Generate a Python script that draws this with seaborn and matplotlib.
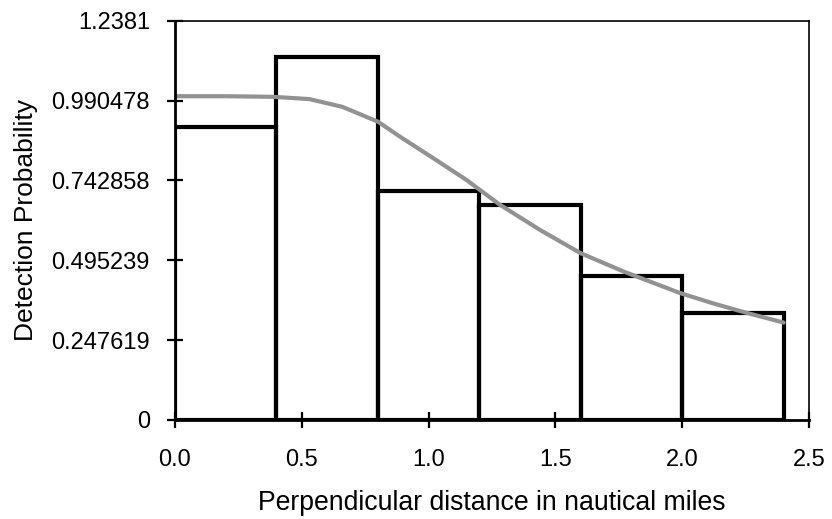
import matplotlib
matplotlib.use("Agg")
import matplotlib.pyplot as plt
import seaborn as sns
import pandas as pd

# Histogram bins (nautical miles) and bar heights
bin_edges = [0.0, 0.4, 0.8, 1.2, 1.6, 2.0, 2.4]
bar_heights = [0.909, 1.127, 0.711, 0.666, 0.448, 0.331]

# Fitted detection curve
curve_x = [0.0, 0.2, 0.39, 0.53, 0.66, 0.80, 0.89, 1.02, 1.15, 1.28,
           1.44, 1.60, 1.77, 1.99, 2.12, 2.25, 2.40]
curve_y = [1.004, 1.004, 1.002, 0.995, 0.971, 0.925, 0.877, 0.811, 0.744,
           0.668, 0.589, 0.517, 0.460, 0.394, 0.362, 0.333, 0.302]

x_ticks = [0.0, 0.5, 1.0, 1.5, 2.0, 2.5]
x_tick_labels = ["0.0", "0.5", "1.0", "1.5", "2.0", "2.5"]
y_ticks = [0, 0.247619, 0.495239, 0.742858, 0.990478, 1.2381]
y_tick_labels = ["0", "0.247619", "0.495239", "0.742858", "0.990478", "1.2381"]

sns.set_theme(style="white")
plt.rcParams['font.family'] = ['Liberation Sans', 'DejaVu Sans']

fig = plt.figure(figsize=(8.32, 5.19), dpi=100)
ax = fig.add_axes([0.2103, 0.1908, 0.7621, 0.7693])

mids = [(bin_edges[i] + bin_edges[i + 1]) / 2 for i in range(len(bar_heights))]
df = pd.DataFrame({"d": mids, "w": bar_heights})
sns.histplot(data=df, x="d", weights="w", bins=bin_edges, fill=False,
             color="black", linewidth=3, element="bars", ax=ax)

cdf = pd.DataFrame({"x": curve_x, "y": curve_y})
sns.lineplot(data=cdf, x="x", y="y", color="#929292", linewidth=3, ax=ax)

ax.set_xlim(0, 2.5)
ax.set_ylim(0, 1.2381)
ax.set_xticks(x_ticks)
ax.set_xticklabels(x_tick_labels)
ax.set_yticks(y_ticks)
ax.set_yticklabels(y_tick_labels)
ax.tick_params(axis="both", which="major", bottom=True, left=True,
               direction="inout", length=12, width=1.6,
               labelsize=17, colors="black")
ax.tick_params(axis="y", pad=12)
ax.tick_params(axis="x", pad=15)

for side in ["left", "bottom"]:
    ax.spines[side].set_linewidth(2)
    ax.spines[side].set_color("black")
for side in ["top", "right"]:
    ax.spines[side].set_linewidth(1.2)
    ax.spines[side].set_color("black")

ax.set_xlabel("Perpendicular distance in nautical miles", fontsize=19.2,
              color="black")
ax.xaxis.set_label_coords(0.5, -0.175)
ax.set_ylabel("Detection Probability", fontsize=19, color="black")
ax.yaxis.set_label_coords(-0.216, 0.5)
ax.grid(False)

fig.savefig("out.png", dpi=100)
